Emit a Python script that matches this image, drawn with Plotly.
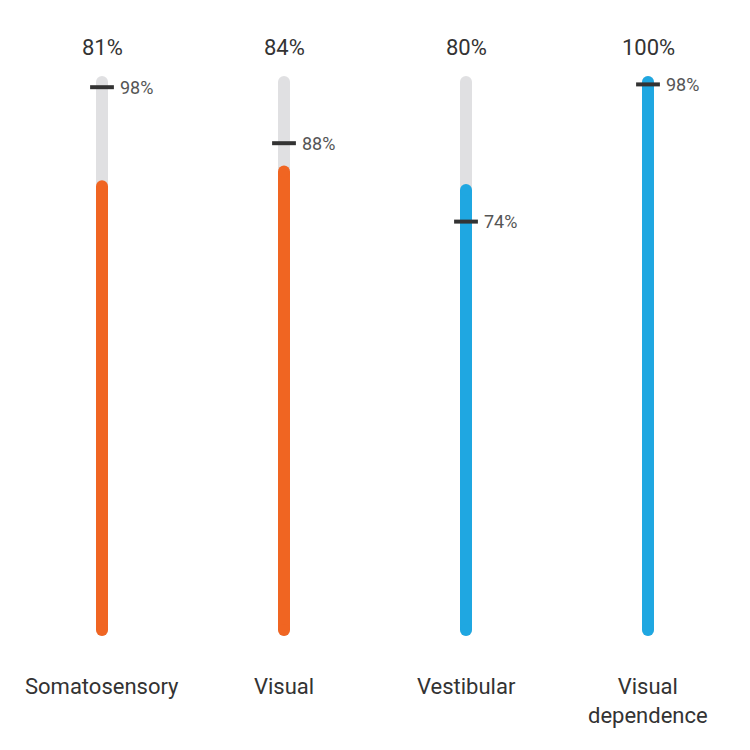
import plotly.graph_objects as go

categories = ["Somatosensory", "Visual", "Vestibular", "Visual<br>dependence"]
values = [81.4, 84, 80.7, 100]
benchmarks = [98, 88, 74, 98.5]
value_labels = ["81%", "84%", "80%", "100%"]
bench_labels = ["98%", "88%", "74%", "98%"]
colors = ["#F06522", "#F06522", "#1FA7E1", "#1FA7E1"]

W, H = 750, 750
M = dict(l=11, r=11, t=76, b=114)
BAR_W = 12
px_per_unit = (H - M["t"] - M["b"]) / 100.0
CAP = (BAR_W / 2) / px_per_unit

fig = go.Figure()
for i, cat in enumerate(categories):
    # gray track
    fig.add_trace(go.Scatter(
        x=[i, i], y=[CAP, 100 - CAP], mode="lines+markers",
        line=dict(color="#E0E0E2", width=BAR_W),
        marker=dict(color="#E0E0E2", size=BAR_W, line=dict(width=0)),
        hoverinfo="skip", showlegend=False))
    # value bar
    fig.add_trace(go.Scatter(
        x=[i, i], y=[CAP, values[i] - CAP], mode="lines+markers",
        line=dict(color=colors[i], width=BAR_W),
        marker=dict(color=colors[i], size=BAR_W, line=dict(width=0)),
        hoverinfo="skip", showlegend=False))
    # benchmark tick
    fig.add_trace(go.Scatter(
        x=[i], y=[benchmarks[i]], mode="markers",
        marker=dict(symbol="line-ew", size=17, line=dict(color="#333333", width=4)),
        hoverinfo="skip", showlegend=False))
    fig.add_annotation(x=i, y=benchmarks[i], text=bench_labels[i], showarrow=False,
                       xanchor="left", yanchor="middle", xshift=16,
                       font=dict(size=18, color="#555555", family="Roboto"))
    fig.add_annotation(x=i, y=1, yref="paper", text=value_labels[i], showarrow=False,
                       xanchor="center", yanchor="bottom", yshift=14,
                       font=dict(size=22, color="#333333", family="Roboto"))
    fig.add_annotation(x=i, y=0, yref="paper", text=cat, showarrow=False,
                       xanchor="center", yanchor="top", yshift=-36,
                       font=dict(size=22, color="#333333", family="Roboto"))

fig.update_layout(
    width=W, height=H, margin=M,
    paper_bgcolor="white", plot_bgcolor="white",
    xaxis=dict(range=[-0.5, 3.5], visible=False, fixedrange=True),
    yaxis=dict(range=[0, 100], visible=False, fixedrange=True),
    font=dict(family="Roboto"),
)
fig.write_html("out.html")
